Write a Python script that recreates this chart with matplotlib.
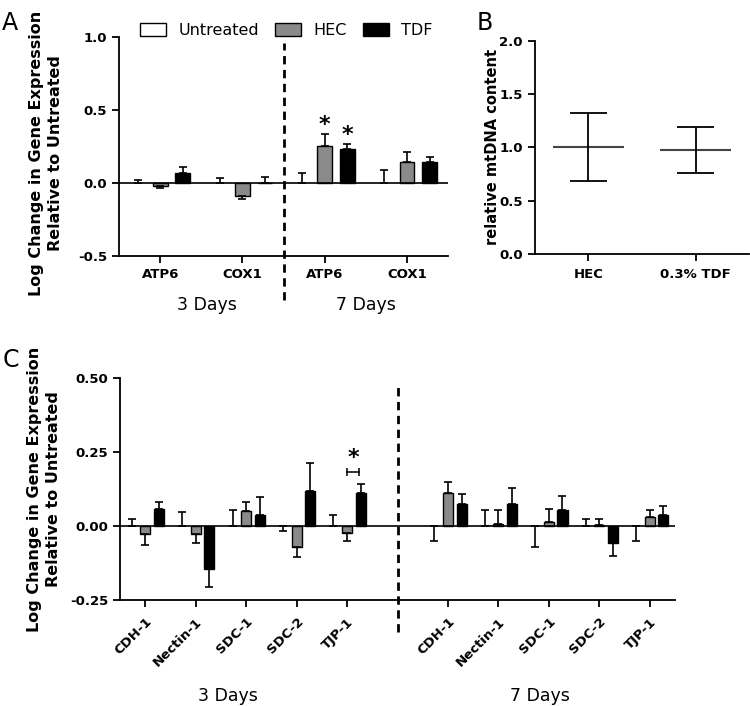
import numpy as np
import matplotlib
matplotlib.use("Agg")
import matplotlib.pyplot as plt
from matplotlib.patches import Patch

plt.rcParams['font.family'] = ['DejaVu Sans']
plt.rcParams['font.weight'] = 'bold'
plt.rcParams['axes.linewidth'] = 1.3

# panel A data
a_genes = ['ATP6', 'COX1', 'ATP6', 'COX1']
a_untreated = [0.0, 0.0, 0.0, 0.0]
a_untreated_err = [0.023, 0.032, 0.068, 0.087]
a_hec = [-0.018, -0.089, 0.256, 0.146]
a_hec_err = [0.018, 0.021, 0.082, 0.066]
a_tdf = [0.068, 0.002, 0.235, 0.142]
a_tdf_err = [0.042, 0.042, 0.032, 0.034]

# panel B data
b_groups = ['HEC', '0.3% TDF']
b_mean = [1.0, 0.978]
b_upper = [1.319, 1.194]
b_lower = [0.687, 0.756]

# panel C data
c_genes = ['CDH-1', 'Nectin-1', 'SDC-1', 'SDC-2', 'TJP-1']
c_untreated = [0.0] * 10
c_untreated_err = [0.025, 0.047, 0.053, -0.018, 0.036,
                   -0.051, 0.056, -0.072, 0.025, -0.051]
c_hec = [-0.027, -0.027, 0.052, -0.070, -0.023,
         0.111, 0.007, 0.0135, 0.003, 0.032]
c_hec_err = [0.036, 0.029, 0.028, 0.034, 0.027,
             0.038, 0.049, 0.045, 0.020, 0.024]
c_tdf = [0.057, -0.144, 0.038, 0.118, 0.113,
         0.075, 0.075, 0.054, -0.057, 0.037]
c_tdf_err = [0.025, 0.061, 0.060, 0.096, 0.029,
             0.033, 0.053, 0.047, 0.043, 0.031]

HEC_GRAY = '#8a8a8a'
YLAB = 'Log Change in Gene Expression\nRelative to Untreated'


def one_sided(vals, errs):
    # errors drawn only away from zero, like Prism
    vals = np.array(vals)
    errs = np.abs(np.array(errs))
    lo = np.where(vals < 0, errs, 0)
    hi = np.where(vals >= 0, errs, 0)
    return np.vstack([lo, hi])


def draw_bars(ax, x, vals, errs, color, width, off):
    ax.bar(x + off, vals, width, color=color, edgecolor='black', linewidth=1, zorder=3)
    ax.errorbar(x + off, vals, yerr=one_sided(vals, errs), fmt='none', ecolor='black',
                elinewidth=1.2, capsize=3, capthick=1.2, zorder=4)


def untreated_err(ax, x, errs, off):
    errs = np.array(errs)
    lo = np.where(errs < 0, -errs, 0)
    hi = np.where(errs > 0, errs, 0)
    ax.errorbar(x + off, np.zeros(len(x)), yerr=np.vstack([lo, hi]), fmt='none',
                ecolor='black', elinewidth=1.2, capsize=3, capthick=1.2, zorder=4)


def style(ax):
    ax.spines['top'].set_visible(False)
    ax.spines['right'].set_visible(False)
    ax.tick_params(direction='out', length=5, width=1.3, labelsize=9.5)


fig = plt.figure(figsize=(7.5, 7.06), dpi=100)

# ---------- A ----------
axA = fig.add_axes([0.1587, 0.6374, 0.4387, 0.3098])
xa = np.arange(len(a_genes))
untreated_err(axA, xa, a_untreated_err, -0.275)
axA.bar(xa - 0.275, a_untreated, 0.18, color='white', edgecolor='none', zorder=3)
draw_bars(axA, xa, a_hec, a_hec_err, HEC_GRAY, 0.18, 0.0)
draw_bars(axA, xa, a_tdf, a_tdf_err, 'black', 0.18, 0.275)
axA.axhline(0, color='black', lw=1.2, zorder=5)
axA.set_xlim(-0.5, 3.5)
axA.set_ylim(-0.5, 1.0)
axA.set_yticks([-0.5, 0.0, 0.5, 1.0])
axA.set_yticklabels(['-0.5', '0.0', '0.5', '1.0'])
axA.set_xticks(xa)
axA.set_xticklabels(a_genes)
style(axA)
axA.set_ylabel(YLAB, fontsize=11.5, fontweight='bold', va='center', linespacing=1.4)
axA.yaxis.set_label_coords(-0.222, 0.47)
axA.plot([1.5, 1.5], [-0.2, 0.974], ls=(0, (3, 2)), color='black', lw=2,
         transform=axA.get_xaxis_transform(), clip_on=False)
axA.text(0.57, -0.225, '3 Days', transform=axA.get_xaxis_transform(), ha='center',
         va='center', fontsize=12.5, fontweight='normal')
axA.text(2.5, -0.225, '7 Days', transform=axA.get_xaxis_transform(), ha='center',
         va='center', fontsize=12.5, fontweight='normal')
axA.text(2.0, a_hec[2] + a_hec_err[2] - 0.005, '*', ha='center', va='bottom', fontsize=16)
axA.text(2.275, a_tdf[2] + a_tdf_err[2] - 0.005, '*', ha='center', va='bottom', fontsize=16)
handles = [Patch(facecolor='white', edgecolor='black', label='Untreated'),
           Patch(facecolor=HEC_GRAY, edgecolor='black', label='HEC'),
           Patch(facecolor='black', edgecolor='black', label='TDF')]
axA.legend(handles=handles, ncol=3, frameon=False, loc='center left',
           bbox_to_anchor=(0.065, 1.03), handlelength=1.6, handleheight=0.85,
           columnspacing=1.0, handletextpad=0.8, borderaxespad=0, borderpad=0,
           prop={'size': 11.5, 'weight': 'normal'})
fig.text(0.003, 0.968, 'A', fontsize=17, fontweight='normal', va='center')

# ---------- B ----------
axB = fig.add_axes([0.7128, 0.6402, 0.2864, 0.3022])
xb = np.arange(len(b_groups))
axB.hlines(b_mean, xb - 0.33, xb + 0.33, color='#444444', lw=1.5)
axB.vlines(xb, b_lower, b_upper, color='black', lw=1.3)
axB.hlines(b_upper, xb - 0.17, xb + 0.17, color='black', lw=1.3)
axB.hlines(b_lower, xb - 0.17, xb + 0.17, color='black', lw=1.3)
axB.set_xlim(-0.5, 1.5)
axB.set_ylim(0, 2.0)
axB.set_yticks([0, 0.5, 1.0, 1.5, 2.0])
axB.set_yticklabels(['0.0', '0.5', '1.0', '1.5', '2.0'])
axB.set_xticks(xb)
axB.set_xticklabels(b_groups)
style(axB)
axB.tick_params(axis='x', pad=5)
axB.set_ylabel('relative mtDNA content', fontsize=10.5, fontweight='bold', va='center')
axB.yaxis.set_label_coords(-0.194, 0.5)
fig.text(0.636, 0.968, 'B', fontsize=17, fontweight='normal', va='center')

# ---------- C ----------
axC = fig.add_axes([0.16, 0.1501, 0.74, 0.3141])
xc = np.concatenate([np.arange(5), np.arange(6, 11)])
untreated_err(axC, xc, c_untreated_err, -0.27)
draw_bars(axC, xc, c_hec, c_hec_err, HEC_GRAY, 0.2, 0.0)
draw_bars(axC, xc, c_tdf, c_tdf_err, 'black', 0.2, 0.27)
axC.axhline(0, color='black', lw=1.2, zorder=5)
axC.set_xlim(-0.5, 10.5)
axC.set_ylim(-0.25, 0.5)
axC.set_yticks([-0.25, 0, 0.25, 0.5])
axC.set_yticklabels(['-0.25', '0.00', '0.25', '0.50'])
axC.set_xticks(xc)
axC.set_xticklabels(c_genes + c_genes, rotation=45, ha='right', rotation_mode='anchor')
style(axC)
axC.tick_params(axis='x', pad=6)
axC.set_ylabel(YLAB, fontsize=11.5, fontweight='bold', va='center', linespacing=1.4)
axC.yaxis.set_label_coords(-0.137, 0.5)
axC.plot([5, 5], [-0.144, 0.979], ls=(0, (3, 2)), color='black', lw=2,
         transform=axC.get_xaxis_transform(), clip_on=False)
axC.text(1.63, -0.435, '3 Days', transform=axC.get_xaxis_transform(), ha='center',
         va='center', fontsize=12.5, fontweight='normal')
axC.text(7.82, -0.435, '7 Days', transform=axC.get_xaxis_transform(), ha='center',
         va='center', fontsize=12.5, fontweight='normal')
# significance bracket between HEC and TDF for TJP-1
axC.plot([4.0, 4.24], [0.184, 0.184], color='black', lw=1.1)
axC.vlines([4.0, 4.24], 0.170, 0.198, color='black', lw=1.1)
axC.text(4.12, 0.197, '*', ha='center', va='bottom', fontsize=16)
fig.text(0.003, 0.49, 'C', fontsize=17, fontweight='normal', va='center')

fig.savefig('out.png', dpi=100)
